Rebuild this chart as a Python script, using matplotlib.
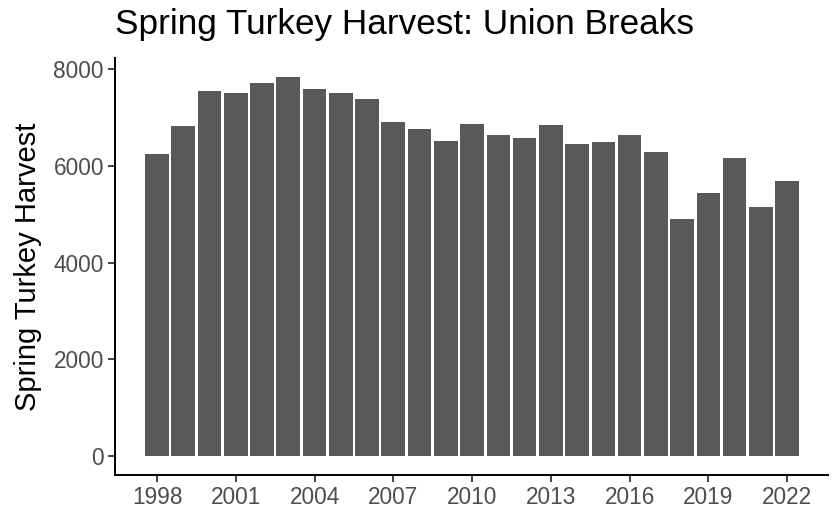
import matplotlib.pyplot as plt
import numpy as np

plt.rcParams['font.family'] = ['Liberation Sans', 'DejaVu Sans']

years = list(range(1998, 2023))
harvest = [6240, 6825, 7555, 7505, 7720, 7840, 7600, 7515, 7375, 6915,
           6770, 6520, 6870, 6645, 6570, 6840, 6455, 6495, 6635, 6280,
           4900, 5435, 6165, 5155, 5685]
tick_years = list(range(1998, 2023, 3))

fig = plt.figure(figsize=(8.34, 5.13), dpi=100)
ax = fig.add_axes([0.1379, 0.0741, 0.855, 0.8128])

ax.bar(years, harvest, width=0.9, color='#595959', edgecolor='none')

ax.set_xlim(1996.4, 2023.56)
ax.set_ylim(-392, 8233)
ax.set_xticks(tick_years)
ax.set_yticks([0, 2000, 4000, 6000, 8000])

for s in ['top', 'right']:
    ax.spines[s].set_visible(False)
for s in ['left', 'bottom']:
    ax.spines[s].set_linewidth(1.4)
    ax.spines[s].set_color('black')

ax.tick_params(axis='both', length=5, width=1.3, color='#333333',
               labelsize=16.3, labelcolor='#4d4d4d', pad=3)

ax.set_ylabel('Spring Turkey Harvest', fontsize=21, color='black', labelpad=8)
fig.text(0.1379, 0.953, 'Spring Turkey Harvest: Union Breaks', fontsize=25.3,
         ha='left', va='center', color='black')

fig.savefig('out.png', dpi=100)
